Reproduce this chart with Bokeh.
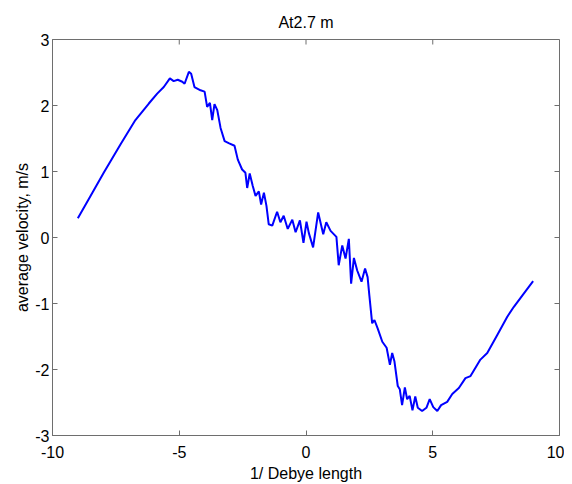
import math
from bokeh.plotting import figure
from bokeh.models import FixedTicker, Range1d
from bokeh.embed import file_html
from bokeh.resources import INLINE

x_vals = [-9.00, -8.50, -7.98, -7.32, -6.73, -6.20, -5.87, -5.61, -5.37, -5.22,
          -5.06, -4.88, -4.79, -4.62, -4.53, -4.40, -4.16, -4.00, -3.90, -3.79,
          -3.70, -3.61, -3.50, -3.37, -3.21, -3.05, -2.82, -2.69, -2.52, -2.39,
          -2.32, -2.22, -2.10, -1.99, -1.86, -1.77, -1.66, -1.56, -1.47, -1.33,
          -1.14, -1.01, -0.88, -0.72, -0.54, -0.41, -0.24, -0.10, 0.02, 0.11,
          0.28, 0.48, 0.68, 0.80, 0.97, 1.20, 1.29, 1.43, 1.56, 1.69,
          1.78, 1.89, 2.02, 2.19, 2.33, 2.43, 2.50, 2.61, 2.70, 2.83,
          3.01, 3.18, 3.31, 3.40, 3.49, 3.62, 3.70, 3.79, 3.90, 3.99,
          4.09, 4.20, 4.31, 4.41, 4.58, 4.75, 4.88, 5.02, 5.18, 5.33,
          5.57, 5.77, 6.03, 6.29, 6.49, 6.88, 7.15, 7.54, 7.94, 8.20,
          8.59, 8.96]
y_vals = [0.29, 0.63, 0.98, 1.41, 1.78, 2.03, 2.18, 2.28, 2.41, 2.37,
          2.39, 2.36, 2.33, 2.51, 2.48, 2.28, 2.23, 2.21, 1.98, 2.04,
          1.78, 2.02, 1.93, 1.66, 1.46, 1.43, 1.39, 1.18, 1.03, 0.98,
          0.75, 0.97, 0.78, 0.63, 0.70, 0.50, 0.68, 0.48, 0.20, 0.18,
          0.39, 0.23, 0.33, 0.13, 0.27, 0.08, 0.26, -0.08, 0.24, 0.07,
          -0.15, 0.38, 0.05, 0.23, 0.10, 0.01, -0.42, -0.12, -0.32, -0.02,
          -0.70, -0.31, -0.50, -0.67, -0.47, -0.60, -0.88, -1.30, -1.25, -1.38,
          -1.58, -1.67, -1.93, -1.75, -1.88, -2.25, -2.30, -2.54, -2.27, -2.45,
          -2.40, -2.62, -2.41, -2.58, -2.63, -2.58, -2.45, -2.57, -2.63, -2.54,
          -2.49, -2.37, -2.28, -2.13, -2.10, -1.85, -1.75, -1.48, -1.20, -1.05,
          -0.85, -0.66]

x_ticks = [-10, -5, 0, 5, 10]
y_ticks = [-3, -2, -1, 0, 1, 2, 3]

title_text = "At2.7 m"
x_label = "1/ Debye length"
y_label = "average velocity, m/s"

FONT = "Liberation Sans"
AXC = "#6e6e6e"

p = figure(width=564, height=484, output_backend="svg", toolbar_location=None,
           x_range=Range1d(-10, 10), y_range=Range1d(-3, 3),
           min_border_left=52, min_border_right=5, min_border_top=39,
           min_border_bottom=46, title=title_text)
p.title.align = "center"
p.title.text_font = FONT
p.title.text_font_size = "16px"
p.title.text_font_style = "normal"
p.title.text_color = "black"
p.title.text_line_height = 1.0
p.title.offset = 0
p.title.standoff = 17

p.xgrid.visible = False
p.ygrid.visible = False
p.outline_line_color = AXC
p.outline_line_width = 1
p.background_fill_color = "white"
p.border_fill_color = "white"

p.line(x_vals, y_vals, line_color="#0000ff", line_width=2)

xax = p.below[0]
yax = p.left[0]

for ax, ticks in ((xax, x_ticks), (yax, y_ticks)):
    ax.ticker = FixedTicker(ticks=ticks)
    ax.major_label_overrides = {t: str(t) for t in ticks}
    ax.major_tick_in = 5
    ax.major_tick_out = 0
    ax.minor_tick_line_color = None
    ax.axis_line_color = AXC
    ax.major_tick_line_color = AXC
    ax.major_label_text_font = FONT
    ax.major_label_text_font_size = "16px"
    ax.major_label_text_line_height = 1.0
    ax.major_label_text_color = "black"
    ax.axis_label_text_font = FONT
    ax.axis_label_text_font_size = "16px"
    ax.axis_label_text_line_height = 1.0
    ax.axis_label_text_font_style = "normal"
    ax.axis_label_text_color = "black"

xax.axis_label = x_label
yax.axis_label = y_label
xax.major_label_standoff = 10
xax.axis_label_standoff = 4
yax.major_label_standoff = 3
yax.axis_label_standoff = 1

# inward ticks on the top and right edges of the box
p.ray(x=x_ticks, y=[y_ticks[-1]] * len(x_ticks), length=5, length_units="screen",
      angle=-math.pi / 2, line_color=AXC, line_width=1)
p.ray(x=[x_ticks[-1]] * len(y_ticks), y=y_ticks, length=5, length_units="screen",
      angle=math.pi, line_color=AXC, line_width=1)

open("out.html", "w").write(file_html(p, INLINE))
